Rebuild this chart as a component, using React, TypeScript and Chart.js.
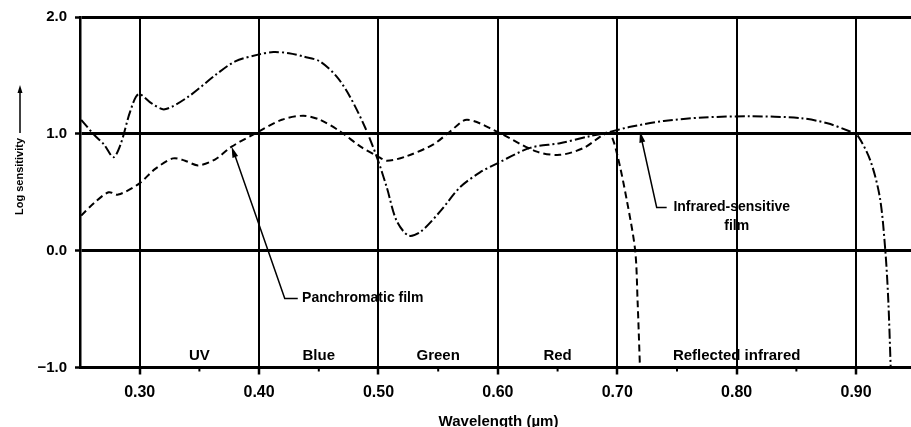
import React, { useEffect, useRef } from 'react';
import { Chart, registerables } from 'chart.js';

Chart.register(...registerables);

// Infrared-sensitive film (dash-dot curve)
const irWavelength = [0.251, 0.262, 0.270, 0.278, 0.284, 0.292, 0.299, 0.310, 0.321, 0.341, 0.363, 0.380, 0.400, 0.412, 0.425, 0.438, 0.451, 0.465, 0.476, 0.489, 0.499, 0.507, 0.515, 0.525, 0.535, 0.552, 0.568, 0.585, 0.600, 0.627, 0.652, 0.677, 0.691, 0.711, 0.739, 0.772, 0.811, 0.853, 0.876, 0.895, 0.901, 0.912, 0.920, 0.9245, 0.927, 0.929];
const irSensitivity = [1.12, 0.99, 0.91, 0.80, 0.91, 1.19, 1.34, 1.26, 1.21, 1.32, 1.50, 1.62, 1.68, 1.70, 1.69, 1.66, 1.62, 1.49, 1.32, 1.05, 0.79, 0.54, 0.26, 0.13, 0.16, 0.34, 0.54, 0.67, 0.75, 0.88, 0.92, 0.98, 1.01, 1.06, 1.11, 1.14, 1.15, 1.135, 1.09, 1.02, 0.99, 0.77, 0.45, 0.0, -0.43, -1.0];

// Panchromatic film (dashed curve)
const panWavelength = [0.251, 0.262, 0.274, 0.282, 0.299, 0.313, 0.328, 0.338, 0.349, 0.363, 0.377, 0.398, 0.419, 0.437, 0.451, 0.468, 0.485, 0.499, 0.507, 0.524, 0.546, 0.560, 0.574, 0.597, 0.632, 0.652, 0.672, 0.688, 0.694, 0.700, 0.708, 0.715, 0.717, 0.719];
const panSensitivity = [0.30, 0.41, 0.50, 0.48, 0.57, 0.70, 0.79, 0.77, 0.73, 0.78, 0.89, 1.01, 1.12, 1.155, 1.12, 1.02, 0.89, 0.81, 0.77, 0.81, 0.91, 1.02, 1.12, 1.03, 0.85, 0.82, 0.88, 0.99, 1.0, 0.82, 0.43, 0.0, -0.43, -1.0];

const xTickValues = [0.3, 0.4, 0.5, 0.6, 0.7, 0.8, 0.9];
const xMinorTickValues = [0.35, 0.45, 0.55, 0.65, 0.75, 0.85];
const yTickValues = [-1, 0, 1, 2];
const bandLabels = ['UV', 'Blue', 'Green', 'Red', 'Reflected infrared'];
const bandCenters = [0.35, 0.45, 0.55, 0.65, 0.80];

const FONT = '"Liberation Sans", Arial, Helvetica, sans-serif';

function arrowHead(ctx: CanvasRenderingContext2D, fx: number, fy: number, tx: number, ty: number, len: number, half: number) {
  const a = Math.atan2(ty - fy, tx - fx);
  ctx.beginPath();
  ctx.moveTo(tx, ty);
  ctx.lineTo(tx - len * Math.cos(a) + half * Math.sin(a), ty - len * Math.sin(a) - half * Math.cos(a));
  ctx.lineTo(tx - len * Math.cos(a) - half * Math.sin(a), ty - len * Math.sin(a) + half * Math.cos(a));
  ctx.closePath();
  ctx.fill();
}

const overlayPlugin = {
  id: 'overlay',
  afterDraw(chart: any) {
    const { ctx, chartArea: ca, scales } = chart;
    const x = scales.x;
    const y = scales.y;
    const X = (v: number) => x.getPixelForValue(v);
    const Y = (v: number) => y.getPixelForValue(v);
    ctx.save();
    ctx.strokeStyle = '#000';
    ctx.fillStyle = '#000';

    // minor ticks
    ctx.lineWidth = 2;
    xMinorTickValues.forEach((v) => {
      const px = X(v);
      ctx.beginPath();
      ctx.moveTo(px, ca.bottom);
      ctx.lineTo(px, ca.bottom + 4);
      ctx.stroke();
    });

    // band labels
    ctx.font = `bold 15px ${FONT}`;
    ctx.textAlign = 'center';
    ctx.textBaseline = 'middle';
    bandLabels.forEach((t, i) => ctx.fillText(t, X(bandCenters[i]), Y(-0.9)));

    // x axis title
    ctx.font = `bold 15px ${FONT}`;
    ctx.fillText('Wavelength (\u00b5m)', (ca.left + ca.right) / 2 + 3, ca.bottom + 54);

    // y axis title with arrow
    ctx.save();
    ctx.translate(20, ca.top + 198);
    ctx.rotate(-Math.PI / 2);
    ctx.font = `bold 11px ${FONT}`;
    ctx.textAlign = 'left';
    ctx.textBaseline = 'middle';
    ctx.fillText('Log sensitivity', 0, 0);
    ctx.lineWidth = 1.5;
    ctx.beginPath();
    ctx.moveTo(82, 0);
    ctx.lineTo(124, 0);
    ctx.stroke();
    arrowHead(ctx, 82, 0, 130, 0, 8, 2.5);
    ctx.restore();

    // Panchromatic film annotation
    ctx.lineWidth = 1.5;
    const pTip = [X(0.377), Y(0.89)];
    const pCorner = [X(0.4215), Y(-0.41)];
    ctx.beginPath();
    ctx.moveTo(pCorner[0] + 13, pCorner[1]);
    ctx.lineTo(pCorner[0], pCorner[1]);
    ctx.lineTo(pTip[0] + 2, pTip[1] + 5);
    ctx.stroke();
    arrowHead(ctx, pCorner[0], pCorner[1], pTip[0], pTip[1], 11, 3);
    ctx.font = `bold 14px ${FONT}`;
    ctx.textAlign = 'left';
    ctx.textBaseline = 'middle';
    ctx.fillText('Panchromatic film', X(0.436), Y(-0.41));

    // Infrared-sensitive film annotation
    const iTip = [X(0.719), Y(1.02)];
    const iCorner = [X(0.733), Y(0.37)];
    ctx.beginPath();
    ctx.moveTo(iCorner[0] + 10, iCorner[1]);
    ctx.lineTo(iCorner[0], iCorner[1]);
    ctx.lineTo(iTip[0] + 1, iTip[1] + 5);
    ctx.stroke();
    arrowHead(ctx, iCorner[0], iCorner[1], iTip[0], iTip[1], 11, 3);
    ctx.fillText('Infrared-sensitive', X(0.747), Y(0.375));
    ctx.textAlign = 'center';
    ctx.fillText('film', X(0.80), Y(0.21));

    ctx.restore();
  },
};

export default function App() {
  const ref = useRef<HTMLCanvasElement>(null);

  useEffect(() => {
    if (!ref.current) return;
    const chart = new Chart(ref.current, {
      type: 'line',
      data: {
        datasets: [
          {
            label: 'Infrared-sensitive film',
            data: irWavelength.map((w, i) => ({ x: w, y: irSensitivity[i] })),
            borderColor: '#000',
            borderWidth: 2,
            borderDash: [10, 3, 2, 3],
            pointRadius: 0,
            tension: 0.3,
            fill: false,
          },
          {
            label: 'Panchromatic film',
            data: panWavelength.map((w, i) => ({ x: w, y: panSensitivity[i] })),
            borderColor: '#000',
            borderWidth: 2,
            borderDash: [7, 4],
            pointRadius: 0,
            tension: 0.3,
            fill: false,
          },
        ],
      },
      options: {
        responsive: false,
        animation: false,
        layout: { padding: { top: 15, right: 0, left: 0, bottom: 0 } },
        plugins: { legend: { display: false }, tooltip: { enabled: false } },
        scales: {
          x: {
            type: 'linear',
            min: 0.25,
            max: 0.946,
            afterBuildTicks: (s: any) => {
              s.ticks = xTickValues.map((v) => ({ value: v }));
            },
            afterFit: (s: any) => {
              s.height = 59.5;
            },
            grid: { color: '#000', lineWidth: 2, tickLength: 7, tickWidth: 2.5 },
            border: { color: '#000', width: 3 },
            ticks: {
              color: '#000',
              font: { family: FONT, size: 16, weight: 'bold' },
              padding: 8,
              maxRotation: 0,
              autoSkip: false,
              callback: (v: any) => Number(v).toFixed(2),
            },
          },
          y: {
            type: 'linear',
            min: -1,
            max: 2,
            afterBuildTicks: (s: any) => {
              s.ticks = yTickValues.map((v) => ({ value: v }));
            },
            afterFit: (s: any) => {
              s.width = 80;
            },
            grid: { color: '#000', lineWidth: 3, tickLength: 5, tickWidth: 2.5 },
            border: { color: '#000', width: 2.5 },
            ticks: {
              color: '#000',
              font: { family: FONT, size: 15, weight: 'bold' },
              padding: 8,
              callback: (v: any) => (Number(v) < 0 ? '\u2212' + Math.abs(Number(v)).toFixed(1) : Number(v).toFixed(1)),
            },
          },
        },
      },
      plugins: [overlayPlugin],
    } as any);
    return () => chart.destroy();
  }, []);

  return (
    <div style={{ position: 'fixed', left: 0, top: 0, width: 911, height: 427, background: '#fff' }}>
      <canvas ref={ref} width={911} height={427} style={{ display: 'block' }} />
    </div>
  );
}
